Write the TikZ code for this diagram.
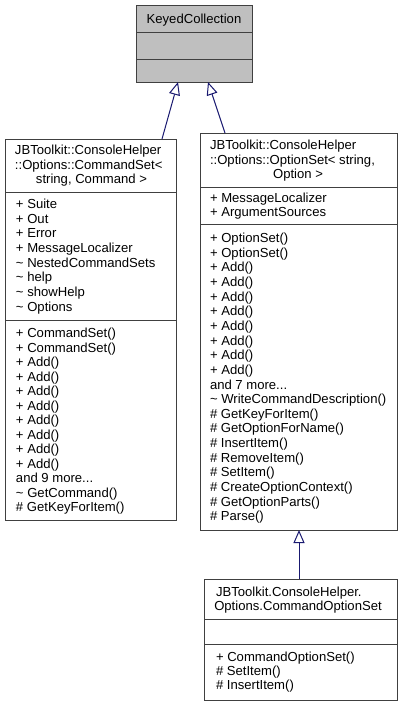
\documentclass[tikz,border=0pt]{standalone}
\usepackage{fontspec}
\setmainfont{Liberation Sans}
\usetikzlibrary{arrows.meta,calc}
\definecolor{edgecol}{HTML}{191970}
\definecolor{framecol}{HTML}{404040}
\definecolor{kcfill}{HTML}{BFBFBF}
\newcommand\mydots{...}
\begin{document}
\begin{tikzpicture}[x=1pt,y=-1pt,
  box/.style={draw=framecol, line width=1pt, inner sep=0pt, outer sep=0pt},
  rulel/.style={draw=framecol, line width=1pt},
  txt/.style={inner sep=0pt, outer sep=0pt, font=\fontsize{13.1}{14.6}\selectfont, anchor=base},
  itm/.style={txt, anchor=base west},
  inh/.style={draw=edgecol, line width=1pt, -{Triangle[open, length=13pt, width=11pt]}}]
\useasboundingbox (0,0) rectangle (403,705);

% KeyedCollection
\node[box, fill=kcfill, minimum width=116pt, minimum height=77pt] (kc) at (194,43.5) {};
\draw[rulel] ($(kc.north west)+(0,27)$) -- ($(kc.north east)+(0,27)$);
\draw[rulel] ($(kc.north west)+(0,54)$) -- ($(kc.north east)+(0,54)$);
\node[txt] (kct) at (194,23) {KeyedCollection};

% CommandSet
\node[box, fill=white, minimum width=171pt, minimum height=381pt] (cs) at (90.5,329.5) {};
\draw[rulel] ($(cs.north west)+(0,53)$) -- ($(cs.north east)+(0,53)$);
\draw[rulel] ($(cs.north west)+(0,181)$) -- ($(cs.north east)+(0,181)$);
\node[itm] (cst0) at (15,154.5) {JBToolkit::ConsoleHelper};
\node[itm] (cst1) at (15,169) {::Options::CommandSet<};
\node[txt] (cst2) at (91.5,183.5) {string, Command >};
\foreach \t [count=\i from 0] in {+ Suite, + Out, + Error, + MessageLocalizer,
  \textasciitilde{} NestedCommandSets, \textasciitilde{} help, \textasciitilde{} showHelp, \textasciitilde{} Options}
  \node[itm] (csa\i) at (16,{208.5+14.65*\i}) {\t};
\foreach \t [count=\i from 0] in {+ CommandSet(), + CommandSet(), + Add(), + Add(), + Add(), + Add(),
  + Add(), + Add(), + Add(), + Add(), and 9 more\mydots, \textasciitilde{} GetCommand(), \# GetKeyForItem()}
  \node[itm] (csm\i) at (16,{337.5+14.5*\i}) {\t};

% OptionSet
\node[box, fill=white, minimum width=197pt, minimum height=397pt] (os) at (298.5,331.5) {};
\draw[rulel] ($(os.north west)+(0,54)$) -- ($(os.north east)+(0,54)$);
\draw[rulel] ($(os.north west)+(0,91)$) -- ($(os.north east)+(0,91)$);
\node[itm] (ost0) at (210,149.5) {JBToolkit::ConsoleHelper};
\node[itm] (ost1) at (210,164) {::Options::OptionSet< string,};
\node[txt] (ost2) at (298,178.5) {Option >};
\foreach \t [count=\i from 0] in {+ MessageLocalizer, + ArgumentSources}
  \node[itm] (osa\i) at (210,{202+14.6*\i}) {\t};
\foreach \t [count=\i from 0] in {+ OptionSet(), + OptionSet(), + Add(), + Add(), + Add(), + Add(),
  + Add(), + Add(), + Add(), + Add(), and 7 more\mydots, \textasciitilde{} WriteCommandDescription(),
  \# GetKeyForItem(), \# GetOptionForName(), \# InsertItem(), \# RemoveItem(), \# SetItem(),
  \# CreateOptionContext(), \# GetOptionParts(), \# Parse()}
  \node[itm] (osm\i) at (210,{242.5+14.65*\i}) {\t};

% CommandOptionSet
\node[box, fill=white, minimum width=193pt, minimum height=121pt] (cos) at (300.5,639.5) {};
\draw[rulel] ($(cos.north west)+(0,40)$) -- ($(cos.north east)+(0,40)$);
\draw[rulel] ($(cos.north west)+(0,65)$) -- ($(cos.north east)+(0,65)$);
\node[itm] (cost0) at (216,596.5) {JBToolkit.ConsoleHelper.};
\node[txt] (cost1) at (298,610.5) {Options.CommandOptionSet};
\foreach \t [count=\i from 0] in {+ CommandOptionSet(), \# SetItem(), \# InsertItem()}
  \node[itm] (cosm\i) at (216,{661+14*\i}) {\t};

% inheritance
\draw[inh] ($(cs.north west)+(157,0)$) -- ($(kc.south west)+(42,0)$);
\draw[inh] ($(os.north west)+(25,0)$) -- ($(kc.south west)+(72,0)$);
\draw[inh] ($(cos.north west)+(95,0)$) -- ($(os.south west)+(99,0)$);
\end{tikzpicture}
\end{document}
